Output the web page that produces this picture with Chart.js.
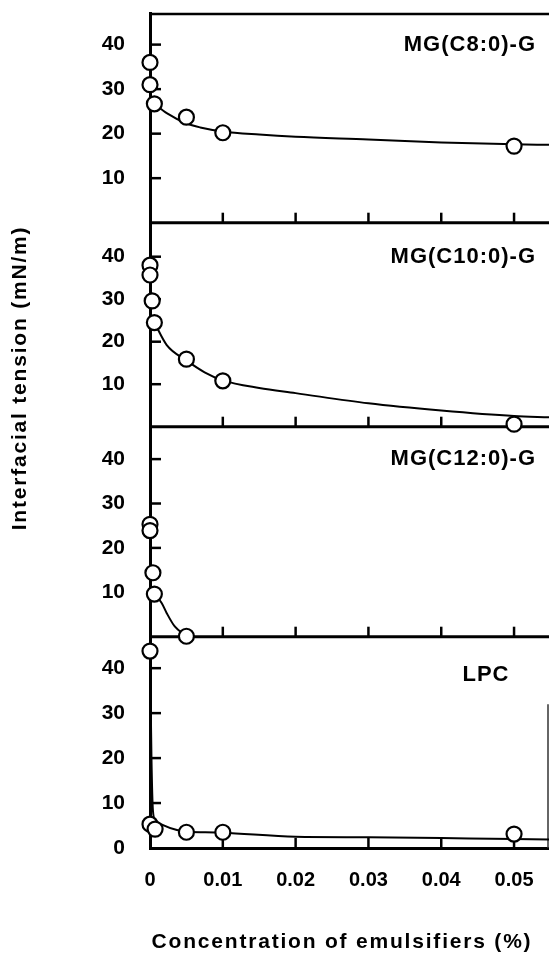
<!DOCTYPE html>
<html>
<head>
<meta charset="utf-8">
<script src="https://cdn.jsdelivr.net/npm/chart.js@4.4.1/dist/chart.umd.min.js"></script>
<style>
  html, body { margin: 0; padding: 0; background: #fff; }
  canvas { display: block; }
</style>
</head>
<body>
<canvas id="chart" width="549" height="967"></canvas>
<script>
const xTicks = [0, 0.01, 0.02, 0.03, 0.04, 0.05];
const yTicksUpper = [10, 20, 30, 40];
const yTicksBottom = [0, 10, 20, 30, 40];

// MG(C8:0)-G
const c8X = [0, 0, 0.0006, 0.005, 0.01, 0.05];
const c8Y = [36, 31, 26.7, 23.7, 20.2, 17.2];
const c8FitX = [0.0006, 0.0023, 0.005, 0.0069, 0.01, 0.015, 0.02, 0.03, 0.04, 0.05, 0.0548];
const c8FitY = [26.7, 24.6, 22.3, 21.4, 20.5, 19.8, 19.3, 18.7, 18.0, 17.6, 17.5];

// MG(C10:0)-G
const c10X = [0, 0, 0.0003, 0.0006, 0.005, 0.01, 0.05];
const c10Y = [38, 35.7, 29.6, 24.5, 15.9, 10.8, 0.6];
const c10FitX = [0.0006, 0.0023, 0.005, 0.0075, 0.01, 0.015, 0.02, 0.03, 0.04, 0.05, 0.0548];
const c10FitY = [24.5, 19.2, 15.6, 12.8, 10.9, 9.1, 7.9, 5.5, 3.8, 2.5, 2.2];

// MG(C12:0)-G
const c12X = [0, 0, 0.0004, 0.0006, 0.005];
const c12Y = [25.3, 23.9, 14.4, 9.6, 0.1];
const c12FitX = [0.0006, 0.0016, 0.0023, 0.0034, 0.005];
const c12FitY = [9.6, 7.6, 5.3, 2.3, 0.1];

// LPC
const lpcX = [0, 0, 0.0007, 0.005, 0.01, 0.05];
const lpcY = [43.8, 5.3, 4.2, 3.5, 3.5, 3.1];
const lpcFitX = [0, 0.0002, 0.0004, 0.0007, 0.0018, 0.0037, 0.005, 0.0076, 0.01, 0.02, 0.03, 0.04, 0.05, 0.0548];
const lpcFitY = [43.8, 20, 8.4, 6.2, 5.1, 4.0, 3.6, 3.5, 3.4, 2.5, 2.4, 2.2, 2.0, 1.9];

const FONT = '"Liberation Sans", Arial, Helvetica, sans-serif';

const panels = [
  {id: 'yC8', name: 'MG(C8:0)-G', xs: c8X, ys: c8Y, fx: c8FitX, fy: c8FitY, max: 47.1, h: 209.7, ticks: yTicksUpper, order: 4},
  {id: 'yC10', name: 'MG(C10:0)-G', xs: c10X, ys: c10Y, fx: c10FitX, fy: c10FitY, max: 48.0, h: 204, ticks: yTicksUpper, order: 3},
  {id: 'yC12', name: 'MG(C12:0)-G', xs: c12X, ys: c12Y, fx: c12FitX, fy: c12FitY, max: 47.3, h: 210, ticks: yTicksUpper, order: 2},
  {id: 'yLPC', name: 'LPC', xs: lpcX, ys: lpcY, fx: lpcFitX, fy: lpcFitY, max: 47.0, h: 211.3, ticks: yTicksBottom, order: 1}
];

function toPoints(xs, ys) {
  return xs.map((x, i) => ({x: x, y: ys[i]}));
}

function noPadding(s) {
  s.paddingTop = 0;
  s.paddingBottom = 0;
  s.paddingLeft = 0;
  s.paddingRight = 0;
}

const datasets = [];
panels.forEach(p => {
  datasets.push({
    data: toPoints(p.fx, p.fy),
    yAxisID: p.id,
    showLine: true,
    borderColor: '#000',
    borderWidth: 2,
    pointRadius: 0,
    cubicInterpolationMode: 'monotone',
    clip: false,
    order: 2
  });
  datasets.push({
    data: toPoints(p.xs, p.ys),
    yAxisID: p.id,
    showLine: false,
    pointRadius: 7.5,
    pointBorderWidth: 2.2,
    pointBackgroundColor: '#fff',
    pointBorderColor: '#000',
    clip: false,
    order: 1
  });
});

const scales = {
  x: {
    type: 'linear',
    position: 'bottom',
    min: 0,
    max: 0.0548,
    grid: {display: false, drawTicks: false},
    border: {display: true, color: '#000', width: 3},
    afterBuildTicks: s => { s.ticks = xTicks.map(v => ({value: v})); },
    afterFit: s => { s.height = 119; noPadding(s); },
    ticks: {
      color: '#000',
      padding: 20,
      font: {family: FONT, size: 20, weight: 'bold'},
      callback: v => v === 0 ? '0' : v.toFixed(2)
    }
  }
};
panels.forEach(p => {
  scales[p.id] = {
    type: 'linear',
    position: 'left',
    stack: 'panels',
    stackWeight: p.h,
    weight: p.order,
    min: 0,
    max: p.max,
    grid: {display: false, drawTicks: false},
    border: {display: true, color: '#000', width: 3},
    afterBuildTicks: s => { s.ticks = p.ticks.map(v => ({value: v})); },
    afterFit: s => { s.width = 110; noPadding(s); },
    ticks: {
      color: '#000',
      padding: 25,
      font: {family: FONT, size: 21, weight: 'bold'},
      callback: v => String(v)
    }
  };
});

const panelFrame = {
  id: 'panelFrame',
  beforeDatasetsDraw(chart) {
    const ctx = chart.ctx;
    const area = chart.chartArea;
    const xs = chart.scales.x;
    ctx.save();
    ctx.strokeStyle = '#000';
    ctx.lineCap = 'butt';
    // top frame line
    ctx.lineWidth = 2.5;
    ctx.beginPath();
    ctx.moveTo(area.left, area.top + 1);
    ctx.lineTo(area.right, area.top + 1);
    ctx.stroke();
    panels.forEach((p, i) => {
      const ys = chart.scales[p.id];
      const base = ys.getPixelForValue(0);
      // panel base line
      if (i < panels.length - 1) {
        ctx.lineWidth = 3;
        ctx.beginPath();
        ctx.moveTo(area.left, base);
        ctx.lineTo(area.right, base);
        ctx.stroke();
      }
      // inward ticks on x
      ctx.lineWidth = 2.5;
      xTicks.forEach(v => {
        if (v === 0) return;
        const px = xs.getPixelForValue(v);
        ctx.beginPath();
        ctx.moveTo(px, base);
        ctx.lineTo(px, base - 10);
        ctx.stroke();
      });
      // inward ticks on y
      p.ticks.forEach(v => {
        if (v === 0) return;
        const py = ys.getPixelForValue(v);
        ctx.beginPath();
        ctx.moveTo(area.left, py);
        ctx.lineTo(area.left + 11, py);
        ctx.stroke();
      });
    });
    // right edge remnant in the lowest panel
    const lpc = chart.scales.yLPC;
    ctx.lineWidth = 1.5;
    ctx.strokeStyle = '#333';
    ctx.beginPath();
    ctx.moveTo(area.right - 1, lpc.getPixelForValue(32));
    ctx.lineTo(area.right - 1, lpc.getPixelForValue(0));
    ctx.stroke();
    ctx.restore();
  },
  afterDraw(chart) {
    const ctx = chart.ctx;
    ctx.save();
    ctx.fillStyle = '#000';
    ctx.letterSpacing = '1px';
    ctx.font = 'bold 22px ' + FONT;
    ctx.textBaseline = 'middle';
    panels.forEach(p => {
      const ys = chart.scales[p.id];
      if (p.name === 'LPC') {
        ctx.textAlign = 'center';
        ctx.fillText(p.name, 486, ys.getPixelForValue(38.5));
      } else {
        ctx.textAlign = 'right';
        ctx.fillText(p.name, 536, ys.getPixelForValue(40));
      }
    });
    // axis titles
    ctx.letterSpacing = '1.8px';
    ctx.font = 'bold 21px ' + FONT;
    ctx.textAlign = 'center';
    ctx.fillText('Concentration of emulsifiers (%)', 342, 942);
    ctx.translate(20, 378);
    ctx.rotate(-Math.PI / 2);
    ctx.fillText('Interfacial tension (mN/m)', 0, 0);
    ctx.restore();
  }
};

new Chart(document.getElementById('chart'), {
  type: 'scatter',
  data: {datasets: datasets},
  options: {
    responsive: false,
    animation: false,
    layout: {autoPadding: false, padding: {left: 40, right: 0, top: 13, bottom: 0}},
    plugins: {legend: {display: false}, tooltip: {enabled: false}},
    scales: scales
  },
  plugins: [panelFrame]
});
</script>
</body>
</html>
